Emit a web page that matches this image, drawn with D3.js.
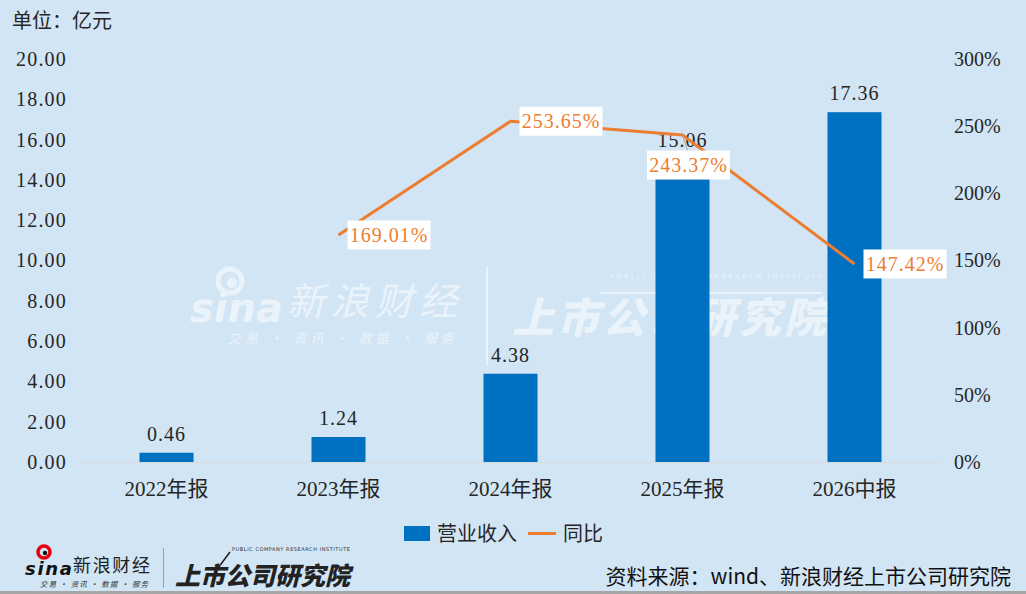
<!DOCTYPE html>
<html>
<head>
<meta charset="utf-8">
<script src="https://cdn.jsdelivr.net/npm/d3@7"></script>
<style>
html,body{margin:0;padding:0;background:#D2E5F4;}
svg{display:block;}
</style>
</head>
<body>
<div id="chart"></div>
<script>
const categories = ["2022年报", "2023年报", "2024年报", "2025年报", "2026中报"];
const revenue = [0.46, 1.24, 4.38, 15.06, 17.36];
const yoy = [null, 169.01, 253.65, 243.37, 147.42];
const leftTicks = [0, 2, 4, 6, 8, 10, 12, 14, 16, 18, 20];
const rightTicks = [0, 50, 100, 150, 200, 250, 300];
const unitLabel = "单位：亿元";
const legendNames = ["营业收入", "同比"];
const sourceText = "资料来源：wind、新浪财经上市公司研究院";

const W = 1026, H = 594;
const numFont = "'Liberation Serif','Noto Sans CJK SC',serif";
const cjkFont = "'Noto Sans CJK SC','Liberation Serif',sans-serif";
const barColor = "#0070C0", lineColor = "#ED7D31", textColor = "#262626";

const svg = d3.select("#chart").append("svg").attr("width", W).attr("height", H);
svg.append("rect").attr("width", W).attr("height", H).attr("fill", "#D2E5F4");

const x = d3.scaleBand().domain(categories).range([80.5, 940.5]).paddingInner(0.686).paddingOuter(0.343);
const yL = d3.scaleLinear().domain([0, 20]).range([462, 59]);
const yR = d3.scaleLinear().domain([0, 300]).range([462, 59]);

// watermark
const wm = svg.append("g").attr("fill", "#ffffff").attr("opacity", 0.55);
wm.append("circle").attr("cx", 230).attr("cy", 281).attr("r", 12).attr("fill", "none").attr("stroke", "#fff").attr("stroke-width", 5);
wm.append("circle").attr("cx", 232).attr("cy", 283).attr("r", 5);
wm.append("text").attr("x", 190).attr("y", 322).attr("font-family", "'DejaVu Sans',sans-serif").attr("font-weight", "bold").attr("font-style", "italic").attr("font-size", 40).text("sina");
wm.append("text").attr("x", 287).attr("y", 315).attr("font-family", cjkFont).attr("font-style", "italic").attr("font-size", 38).attr("textLength", 170).text("新浪财经");
wm.append("text").attr("x", 228).attr("y", 343).attr("font-family", cjkFont).attr("font-style", "italic").attr("font-size", 13).attr("textLength", 226).text("交易 · 资讯 · 数据 · 服务");
wm.append("rect").attr("x", 486).attr("y", 267).attr("width", 2).attr("height", 98);
wm.append("text").attr("x", 610).attr("y", 279).attr("font-family", "'DejaVu Sans',sans-serif").attr("font-size", 7).attr("textLength", 212).text("PUBLIC COMPANY RESEARCH INSTITUTE");
wm.append("rect").attr("x", 600).attr("y", 292).attr("width", 222).attr("height", 2);
wm.append("text").attr("x", 512).attr("y", 333).attr("font-family", cjkFont).attr("font-weight", "900").attr("font-style", "italic").attr("font-size", 42).attr("textLength", 314).text("上市公司研究院");

// unit label
svg.append("text").attr("x", 12).attr("y", 28).attr("font-family", cjkFont).attr("font-size", 20).attr("fill", textColor).text(unitLabel);

// left axis
const leftAxis = d3.axisLeft(yL).tickValues(leftTicks).tickFormat(d3.format(".2f")).tickSize(0).tickPadding(0);
const gL = svg.append("g").attr("transform", "translate(67,0)").call(leftAxis);
gL.select(".domain").remove();
gL.selectAll("text").attr("font-family", numFont).attr("font-size", 20).attr("fill", textColor).attr("letter-spacing", "1.2px");

// right axis
const rightAxis = d3.axisRight(yR).tickValues(rightTicks).tickFormat(d => d + "%").tickSize(0).tickPadding(0);
const gR = svg.append("g").attr("transform", "translate(954,0)").call(rightAxis);
gR.select(".domain").remove();
gR.selectAll("text").attr("font-family", numFont).attr("font-size", 20).attr("fill", textColor);

// baseline
svg.append("line").attr("x1", 80.5).attr("x2", 940.5).attr("y1", yL(0) + 0.5).attr("y2", yL(0) + 0.5).attr("stroke", "#D9D9D9").attr("stroke-width", 1);

// bottom axis
const bottomAxis = d3.axisBottom(x).tickSize(0).tickPadding(0);
const gB = svg.append("g").attr("transform", "translate(0,481)").call(bottomAxis);
gB.select(".domain").remove();
gB.selectAll("text").attr("font-family", numFont).attr("font-size", 21).attr("fill", textColor);

// bars
svg.append("g").selectAll("rect").data(revenue).join("rect")
  .attr("x", (d, i) => x(categories[i]))
  .attr("y", d => yL(d))
  .attr("width", x.bandwidth())
  .attr("height", d => yL(0) - yL(d))
  .attr("fill", barColor);

// bar labels
svg.append("g").selectAll("text").data(revenue).join("text")
  .attr("x", (d, i) => x(categories[i]) + x.bandwidth() / 2)
  .attr("y", d => yL(d) - 12)
  .attr("text-anchor", "middle")
  .attr("font-family", numFont).attr("font-size", 20).attr("fill", textColor)
  .attr("letter-spacing", "1px")
  .text(d => d.toFixed(2));

// line
const pts = yoy.map((v, i) => ({ c: categories[i], v })).filter(d => d.v != null);
const line = d3.line().x(d => x(d.c) + x.bandwidth() / 2).y(d => yR(d.v));
svg.append("path").datum(pts).attr("d", line).attr("fill", "none").attr("stroke", lineColor).attr("stroke-width", 3).attr("stroke-linejoin", "round");

// line labels
const offsets = [
  { dx: 9, dy: 0, anchor: "start" },
  { dx: 9, dy: 0, anchor: "start" },
  { dx: 6, dy: 30, anchor: "middle" },
  { dx: 9, dy: 0, anchor: "start" }
];
pts.forEach((d, i) => {
  const px = x(d.c) + x.bandwidth() / 2, py = yR(d.v);
  const o = offsets[i];
  const wBox = 83, hBox = 29;
  let bx = o.anchor === "start" ? px + o.dx : px + o.dx - wBox / 2;
  let by = py + o.dy - hBox / 2;
  if (i === 2) {
    svg.append("line").attr("x1", px).attr("y1", py).attr("x2", px + 5).attr("y2", by).attr("stroke", "#A6A6A6").attr("stroke-width", 1);
  }
  svg.append("rect").attr("x", bx).attr("y", by).attr("width", wBox).attr("height", hBox).attr("fill", "#ffffff");
  svg.append("text").attr("x", bx + wBox / 2).attr("y", by + hBox / 2 + 7)
    .attr("text-anchor", "middle").attr("font-family", numFont).attr("font-size", 20)
    .attr("letter-spacing", "1px")
    .attr("fill", lineColor).text(d.v.toFixed(2) + "%");
});

// legend
const lg = svg.append("g");
lg.append("rect").attr("x", 404).attr("y", 526).attr("width", 26).attr("height", 15).attr("fill", barColor);
lg.append("text").attr("x", 437).attr("y", 541).attr("font-family", cjkFont).attr("font-size", 20).attr("fill", textColor).text(legendNames[0]);
lg.append("line").attr("x1", 528).attr("x2", 556).attr("y1", 533.5).attr("y2", 533.5).attr("stroke", lineColor).attr("stroke-width", 3);
lg.append("text").attr("x", 563).attr("y", 541).attr("font-family", cjkFont).attr("font-size", 20).attr("fill", textColor).text(legendNames[1]);

// footer logos
const ft = svg.append("g");
ft.append("circle").attr("cx", 44).attr("cy", 552).attr("r", 6).attr("fill", "none").attr("stroke", "#E60012").attr("stroke-width", 3.5);
ft.append("circle").attr("cx", 45).attr("cy", 553).attr("r", 2.2).attr("fill", "#111");
ft.append("text").attr("x", 25).attr("y", 575).attr("font-family", "'DejaVu Sans',sans-serif").attr("font-weight", "bold").attr("font-style", "italic").attr("font-size", 18).attr("fill", "#111").attr("textLength", 47).text("sina");
ft.append("text").attr("x", 73).attr("y", 572).attr("font-family", cjkFont).attr("font-size", 18).attr("fill", "#222").attr("textLength", 77).text("新浪财经");
ft.append("text").attr("x", 40).attr("y", 587).attr("font-family", cjkFont).attr("font-style", "italic").attr("font-size", 7.5).attr("fill", "#333").attr("textLength", 108).text("交易 · 资讯 · 数据 · 服务");
ft.append("line").attr("x1", 163.5).attr("x2", 163.5).attr("y1", 548).attr("y2", 588).attr("stroke", "#A0A0A0").attr("stroke-width", 1);
ft.append("text").attr("x", 232).attr("y", 551).attr("font-family", "'DejaVu Sans',sans-serif").attr("font-size", 5).attr("fill", "#333").attr("textLength", 118).text("PUBLIC COMPANY RESEARCH INSTITUTE");
ft.append("text").attr("x", 175).attr("y", 585).attr("font-family", cjkFont).attr("font-weight", "900").attr("font-style", "italic").attr("font-size", 25).attr("fill", "#222").attr("textLength", 175).text("上市公司研究院");
ft.append("line").attr("x1", 218).attr("y1", 568).attr("x2", 230).attr("y2", 552).attr("stroke", "#222").attr("stroke-width", 1.5);

// source
svg.append("text").attr("x", 1011).attr("y", 584).attr("text-anchor", "end").attr("font-family", cjkFont).attr("font-size", 21).attr("fill", "#111").text(sourceText);

// bottom border
svg.append("rect").attr("x", 0).attr("y", 591).attr("width", W).attr("height", 3).attr("fill", "#A6A6A6");
</script>
</body>
</html>
